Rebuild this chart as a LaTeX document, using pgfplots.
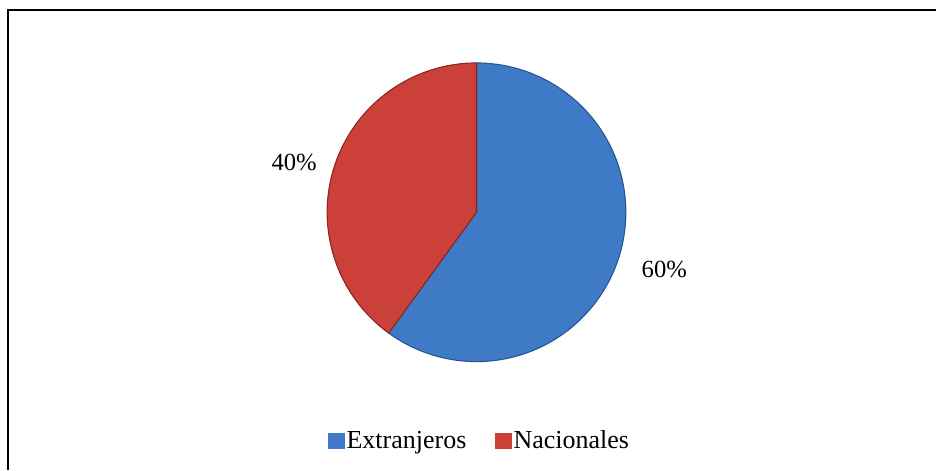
\documentclass[border=0pt]{standalone}
\usepackage{pgfplots}
\pgfplotsset{compat=1.18}
\usepackage{fontspec}
\setmainfont{Liberation Serif}
\definecolor{pieblue}{RGB}{62,122,198}
\definecolor{pieblueedge}{RGB}{36,84,152}
\definecolor{piered}{RGB}{204,64,58}
\definecolor{pierededge}{RGB}{140,36,32}
% data (percent)
\def\vExt{60}
\def\vNac{40}
\begin{document}
\begin{tikzpicture}
\begin{axis}[
  scale only axis, width=702.75pt, height=352.5pt,
  xmin=0, xmax=937, ymin=0, ymax=470, y dir=reverse,
  hide axis, clip=false,
  legend columns=2,
  legend style={at={(axis cs:480,441)}, anchor=center, draw=none, fill=none,
    font=\fontsize{19.5}{23}\selectfont, inner sep=0pt,
    /tikz/every even column/.append style={column sep=20pt},
    nodes={inner xsep=1.5pt}},
  legend image code/.code={\path[#1, draw=none] (0pt,-6pt) rectangle (12.5pt,5.5pt);},
]
\path (axis cs:0,0) rectangle (axis cs:937,470);
\draw[line width=1.5pt, black] (axis cs:8,470) -- (axis cs:8,10) -- (axis cs:937,10);
% Extranjeros slice: clockwise from 90 deg
\addplot[fill=pieblue, draw=pieblueedge, line width=0.8pt, samples=120, variable=\t,
  domain=90:{90-3.6*\vExt}]
  ({477+149.5*cos(\t)}, {212.5-149.5*sin(\t)}) -- (axis cs:477,212.5) -- cycle;
\addlegendentry{Extranjeros}
% Nacionales slice
\addplot[fill=piered, draw=pierededge, line width=0.8pt, samples=120, variable=\t,
  domain={90-3.6*\vExt}:{90-3.6*(\vExt+\vNac)}]
  ({477+149.5*cos(\t)}, {212.5-149.5*sin(\t)}) -- (axis cs:477,212.5) -- cycle;
\addlegendentry{Nacionales}
\node[anchor=base, font=\fontsize{18.5}{22}\selectfont, inner sep=0pt] at (axis cs:294.5,171) {40\%};
\node[anchor=base, font=\fontsize{18.5}{22}\selectfont, inner sep=0pt] at (axis cs:665,278) {60\%};
\end{axis}
\end{tikzpicture}
\end{document}
